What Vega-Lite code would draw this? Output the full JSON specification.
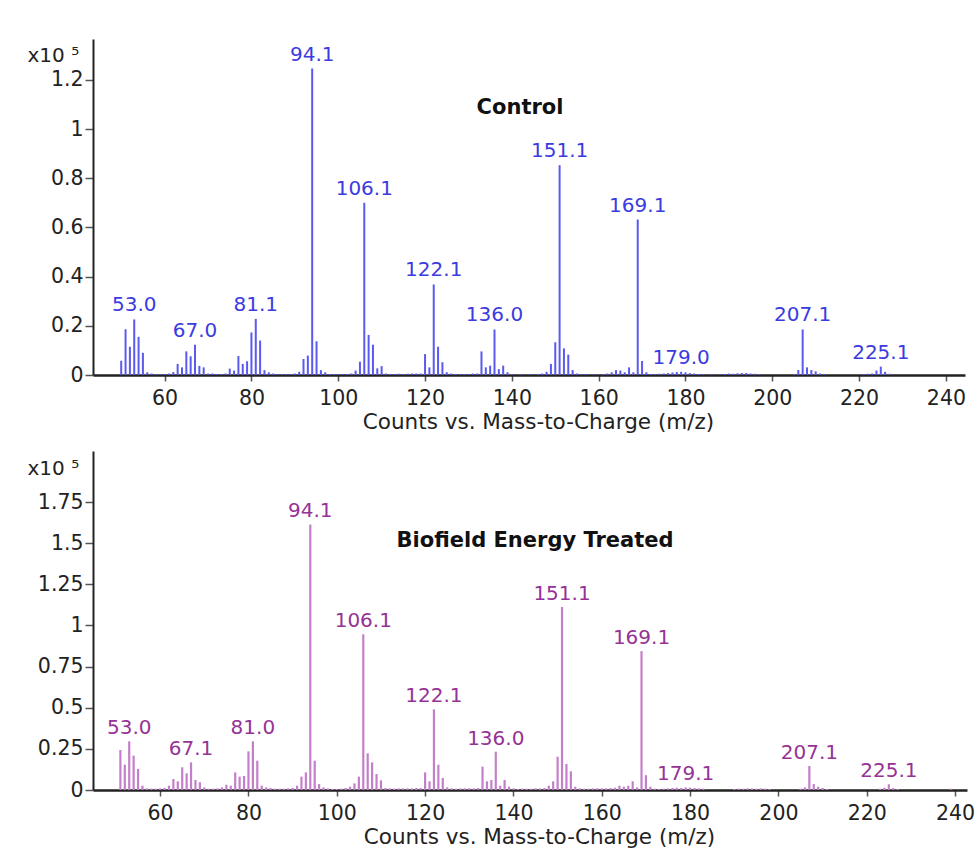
{
  "$schema": "https://vega.github.io/schema/vega-lite/v6.json",
  "padding": {"left": 27, "top": 39, "right": 5, "bottom": 5},
  "background": "white",
  "spacing": 18,
  "config": {
    "view": {"stroke": null},
    "font": "DejaVu Sans",
    "axis": {
      "grid": false,
      "domainColor": "#222222",
      "tickColor": "#555555",
      "labelColor": "#222222",
      "titleColor": "#222222",
      "labelFont": "DejaVu Sans",
      "titleFont": "DejaVu Sans",
      "titleFontWeight": "normal"
    },
    "title": {"font": "DejaVu Sans", "color": "#111111"}
  },
  "datasets": {
    "control": [
      {"mz": 50, "v": 0.058}, {"mz": 51, "v": 0.186}, {"mz": 52, "v": 0.115}, {"mz": 53, "v": 0.226, "label": "53.0"},
      {"mz": 54, "v": 0.155}, {"mz": 55, "v": 0.09}, {"mz": 56, "v": 0.011}, {"mz": 57, "v": 0.006},
      {"mz": 58, "v": 0.004}, {"mz": 59, "v": 0.003}, {"mz": 60, "v": 0.004}, {"mz": 61, "v": 0.006},
      {"mz": 62, "v": 0.012}, {"mz": 63, "v": 0.045}, {"mz": 64, "v": 0.031}, {"mz": 65, "v": 0.096},
      {"mz": 66, "v": 0.076}, {"mz": 67, "v": 0.123, "label": "67.0"}, {"mz": 68, "v": 0.037}, {"mz": 69, "v": 0.031},
      {"mz": 70, "v": 0.006}, {"mz": 71, "v": 0.006}, {"mz": 72, "v": 0.004}, {"mz": 73, "v": 0.004},
      {"mz": 74, "v": 0.006}, {"mz": 75, "v": 0.026}, {"mz": 76, "v": 0.018}, {"mz": 77, "v": 0.077},
      {"mz": 78, "v": 0.045}, {"mz": 79, "v": 0.056}, {"mz": 80, "v": 0.173}, {"mz": 81, "v": 0.228, "label": "81.1"},
      {"mz": 82, "v": 0.14}, {"mz": 83, "v": 0.02}, {"mz": 84, "v": 0.011}, {"mz": 85, "v": 0.006},
      {"mz": 86, "v": 0.004}, {"mz": 87, "v": 0.004}, {"mz": 88, "v": 0.003}, {"mz": 89, "v": 0.004},
      {"mz": 90, "v": 0.006}, {"mz": 91, "v": 0.013}, {"mz": 92, "v": 0.065}, {"mz": 93, "v": 0.079},
      {"mz": 94, "v": 1.246, "label": "94.1"}, {"mz": 95, "v": 0.137}, {"mz": 96, "v": 0.02}, {"mz": 97, "v": 0.011},
      {"mz": 98, "v": 0.004}, {"mz": 99, "v": 0.004}, {"mz": 100, "v": 0.003}, {"mz": 101, "v": 0.004},
      {"mz": 102, "v": 0.004}, {"mz": 103, "v": 0.006}, {"mz": 104, "v": 0.018}, {"mz": 105, "v": 0.054},
      {"mz": 106, "v": 0.7, "label": "106.1"}, {"mz": 107, "v": 0.163}, {"mz": 108, "v": 0.123}, {"mz": 109, "v": 0.027},
      {"mz": 110, "v": 0.036}, {"mz": 111, "v": 0.006}, {"mz": 112, "v": 0.004}, {"mz": 113, "v": 0.004},
      {"mz": 114, "v": 0.005}, {"mz": 115, "v": 0.004}, {"mz": 116, "v": 0.005}, {"mz": 117, "v": 0.006},
      {"mz": 118, "v": 0.006}, {"mz": 119, "v": 0.006}, {"mz": 120, "v": 0.085}, {"mz": 121, "v": 0.031},
      {"mz": 122, "v": 0.368, "label": "122.1"}, {"mz": 123, "v": 0.115}, {"mz": 124, "v": 0.052}, {"mz": 125, "v": 0.011},
      {"mz": 126, "v": 0.006}, {"mz": 127, "v": 0.004}, {"mz": 128, "v": 0.004}, {"mz": 129, "v": 0.004},
      {"mz": 130, "v": 0.003}, {"mz": 131, "v": 0.006}, {"mz": 132, "v": 0.006}, {"mz": 133, "v": 0.096},
      {"mz": 134, "v": 0.031}, {"mz": 135, "v": 0.038}, {"mz": 136, "v": 0.185, "label": "136.0"}, {"mz": 137, "v": 0.024},
      {"mz": 138, "v": 0.038}, {"mz": 139, "v": 0.011}, {"mz": 140, "v": 0.004}, {"mz": 142, "v": 0.003},
      {"mz": 144, "v": 0.003}, {"mz": 146, "v": 0.004}, {"mz": 147, "v": 0.006}, {"mz": 148, "v": 0.013},
      {"mz": 149, "v": 0.045}, {"mz": 150, "v": 0.133}, {"mz": 151, "v": 0.853, "label": "151.1"}, {"mz": 152, "v": 0.108},
      {"mz": 153, "v": 0.083}, {"mz": 154, "v": 0.02}, {"mz": 155, "v": 0.006}, {"mz": 156, "v": 0.003},
      {"mz": 157, "v": 0.004}, {"mz": 159, "v": 0.003}, {"mz": 161, "v": 0.003}, {"mz": 162, "v": 0.006},
      {"mz": 163, "v": 0.011}, {"mz": 164, "v": 0.02}, {"mz": 165, "v": 0.018}, {"mz": 166, "v": 0.011},
      {"mz": 167, "v": 0.031}, {"mz": 168, "v": 0.011}, {"mz": 169, "v": 0.632, "label": "169.1"}, {"mz": 170, "v": 0.057},
      {"mz": 171, "v": 0.011}, {"mz": 172, "v": 0.004}, {"mz": 173, "v": 0.004}, {"mz": 174, "v": 0.005},
      {"mz": 175, "v": 0.006}, {"mz": 176, "v": 0.008}, {"mz": 177, "v": 0.01}, {"mz": 178, "v": 0.012},
      {"mz": 179, "v": 0.013, "label": "179.0"}, {"mz": 180, "v": 0.011}, {"mz": 181, "v": 0.008}, {"mz": 182, "v": 0.006},
      {"mz": 183, "v": 0.004}, {"mz": 184, "v": 0.004}, {"mz": 186, "v": 0.003}, {"mz": 188, "v": 0.003},
      {"mz": 189, "v": 0.004}, {"mz": 190, "v": 0.006}, {"mz": 191, "v": 0.005}, {"mz": 192, "v": 0.007},
      {"mz": 193, "v": 0.008}, {"mz": 194, "v": 0.008}, {"mz": 195, "v": 0.006}, {"mz": 196, "v": 0.005},
      {"mz": 197, "v": 0.004}, {"mz": 205, "v": 0.004}, {"mz": 206, "v": 0.02}, {"mz": 207, "v": 0.185, "label": "207.1"},
      {"mz": 208, "v": 0.031}, {"mz": 209, "v": 0.02}, {"mz": 210, "v": 0.015}, {"mz": 211, "v": 0.006},
      {"mz": 212, "v": 0.003}, {"mz": 221, "v": 0.004}, {"mz": 222, "v": 0.005}, {"mz": 223, "v": 0.006},
      {"mz": 224, "v": 0.018}, {"mz": 225, "v": 0.034, "label": "225.1"}, {"mz": 226, "v": 0.013}, {"mz": 227, "v": 0.005}
    ],
    "treated": [
      {"mz": 51, "v": 0.243}, {"mz": 52, "v": 0.154}, {"mz": 53, "v": 0.296, "label": "53.0"}, {"mz": 54, "v": 0.209},
      {"mz": 55, "v": 0.128}, {"mz": 56, "v": 0.026}, {"mz": 57, "v": 0.01}, {"mz": 58, "v": 0.008},
      {"mz": 59, "v": 0.008}, {"mz": 60, "v": 0.01}, {"mz": 61, "v": 0.012}, {"mz": 62, "v": 0.026},
      {"mz": 63, "v": 0.067}, {"mz": 64, "v": 0.053}, {"mz": 65, "v": 0.138}, {"mz": 66, "v": 0.101},
      {"mz": 67, "v": 0.168, "label": "67.1"}, {"mz": 68, "v": 0.061}, {"mz": 69, "v": 0.047}, {"mz": 70, "v": 0.016},
      {"mz": 71, "v": 0.008}, {"mz": 72, "v": 0.008}, {"mz": 73, "v": 0.01}, {"mz": 74, "v": 0.016},
      {"mz": 75, "v": 0.032}, {"mz": 76, "v": 0.026}, {"mz": 77, "v": 0.107}, {"mz": 78, "v": 0.081},
      {"mz": 79, "v": 0.085}, {"mz": 80, "v": 0.235}, {"mz": 81, "v": 0.296, "label": "81.0"}, {"mz": 82, "v": 0.178},
      {"mz": 83, "v": 0.026}, {"mz": 84, "v": 0.016}, {"mz": 85, "v": 0.012}, {"mz": 86, "v": 0.008},
      {"mz": 87, "v": 0.008}, {"mz": 88, "v": 0.008}, {"mz": 89, "v": 0.01}, {"mz": 90, "v": 0.012},
      {"mz": 91, "v": 0.026}, {"mz": 92, "v": 0.081}, {"mz": 93, "v": 0.107}, {"mz": 94, "v": 1.614, "label": "94.1"},
      {"mz": 95, "v": 0.178}, {"mz": 96, "v": 0.036}, {"mz": 97, "v": 0.016}, {"mz": 98, "v": 0.01},
      {"mz": 99, "v": 0.006}, {"mz": 100, "v": 0.006}, {"mz": 101, "v": 0.008}, {"mz": 102, "v": 0.012},
      {"mz": 103, "v": 0.02}, {"mz": 104, "v": 0.04}, {"mz": 105, "v": 0.081}, {"mz": 106, "v": 0.946, "label": "106.1"},
      {"mz": 107, "v": 0.223}, {"mz": 108, "v": 0.168}, {"mz": 109, "v": 0.097}, {"mz": 110, "v": 0.059},
      {"mz": 111, "v": 0.012}, {"mz": 112, "v": 0.01}, {"mz": 113, "v": 0.008}, {"mz": 114, "v": 0.01},
      {"mz": 115, "v": 0.01}, {"mz": 116, "v": 0.01}, {"mz": 117, "v": 0.01}, {"mz": 118, "v": 0.012},
      {"mz": 119, "v": 0.012}, {"mz": 120, "v": 0.107}, {"mz": 121, "v": 0.053}, {"mz": 122, "v": 0.49, "label": "122.1"},
      {"mz": 123, "v": 0.154}, {"mz": 124, "v": 0.073}, {"mz": 125, "v": 0.016}, {"mz": 126, "v": 0.01},
      {"mz": 127, "v": 0.008}, {"mz": 128, "v": 0.01}, {"mz": 129, "v": 0.01}, {"mz": 130, "v": 0.01},
      {"mz": 131, "v": 0.01}, {"mz": 132, "v": 0.012}, {"mz": 133, "v": 0.142}, {"mz": 134, "v": 0.053},
      {"mz": 135, "v": 0.061}, {"mz": 136, "v": 0.233, "label": "136.0"}, {"mz": 137, "v": 0.026}, {"mz": 138, "v": 0.061},
      {"mz": 139, "v": 0.02}, {"mz": 140, "v": 0.01}, {"mz": 141, "v": 0.006}, {"mz": 142, "v": 0.008},
      {"mz": 143, "v": 0.008}, {"mz": 144, "v": 0.008}, {"mz": 145, "v": 0.01}, {"mz": 146, "v": 0.01},
      {"mz": 147, "v": 0.012}, {"mz": 148, "v": 0.026}, {"mz": 149, "v": 0.053}, {"mz": 150, "v": 0.202},
      {"mz": 151, "v": 1.112, "label": "151.1"}, {"mz": 152, "v": 0.158}, {"mz": 153, "v": 0.113}, {"mz": 154, "v": 0.02},
      {"mz": 155, "v": 0.01}, {"mz": 156, "v": 0.008}, {"mz": 157, "v": 0.008}, {"mz": 158, "v": 0.01},
      {"mz": 159, "v": 0.01}, {"mz": 160, "v": 0.01}, {"mz": 161, "v": 0.01}, {"mz": 162, "v": 0.012},
      {"mz": 163, "v": 0.014}, {"mz": 164, "v": 0.026}, {"mz": 165, "v": 0.02}, {"mz": 166, "v": 0.026},
      {"mz": 167, "v": 0.053}, {"mz": 168, "v": 0.016}, {"mz": 169, "v": 0.844, "label": "169.1"}, {"mz": 170, "v": 0.09},
      {"mz": 171, "v": 0.02}, {"mz": 172, "v": 0.008}, {"mz": 173, "v": 0.006}, {"mz": 174, "v": 0.008},
      {"mz": 175, "v": 0.01}, {"mz": 176, "v": 0.012}, {"mz": 177, "v": 0.014}, {"mz": 178, "v": 0.012},
      {"mz": 179, "v": 0.016, "label": "179.1"}, {"mz": 180, "v": 0.014}, {"mz": 181, "v": 0.012}, {"mz": 182, "v": 0.01},
      {"mz": 183, "v": 0.008}, {"mz": 190, "v": 0.006}, {"mz": 191, "v": 0.008}, {"mz": 192, "v": 0.008},
      {"mz": 193, "v": 0.01}, {"mz": 194, "v": 0.01}, {"mz": 195, "v": 0.008}, {"mz": 196, "v": 0.01},
      {"mz": 197, "v": 0.008}, {"mz": 198, "v": 0.006}, {"mz": 205, "v": 0.008}, {"mz": 206, "v": 0.016},
      {"mz": 207, "v": 0.146, "label": "207.1"}, {"mz": 208, "v": 0.036}, {"mz": 209, "v": 0.02}, {"mz": 210, "v": 0.012},
      {"mz": 211, "v": 0.006}, {"mz": 223, "v": 0.008}, {"mz": 224, "v": 0.014}, {"mz": 225, "v": 0.035, "label": "225.1"},
      {"mz": 226, "v": 0.012}, {"mz": 227, "v": 0.006}, {"mz": 239, "v": 0.008}
    ]
  },
  "vconcat": [
    {
      "width": 872,
      "height": 336,
      "title": {"text": "Control", "orient": "top", "anchor": "middle", "frame": "group", "baseline": "alphabetic", "offset": -96, "dx": -9, "fontSize": 21, "fontWeight": "bold"},
      "data": {"name": "control"},
      "layer": [
        {
          "mark": {"type": "rule", "color": "#5a5af0", "strokeWidth": 2},
          "encoding": {
            "x": {"field": "mz", "type": "quantitative",
              "scale": {"domain": [43.5, 244.4], "nice": false, "zero": false},
              "axis": {"values": [60, 80, 100, 120, 140, 160, 180, 200, 220, 240], "title": "Counts vs. Mass-to-Charge (m/z)",
                "titleFontSize": 21.5, "titlePadding": 3, "titleX": 445, "titleAlign": "center", "tickSize": 6, "labelPadding": 7, "labelFontSize": 20.5,
                "domainWidth": 2.5, "tickWidth": 1.5}},
            "y": {"field": "v", "type": "quantitative",
              "scale": {"domain": [0, 1.366], "nice": false},
              "axis": {"values": [0, 0.2, 0.4, 0.6, 0.8, 1, 1.2], "format": ".3~g", "title": "x10 ⁵",
                "titleAngle": 0, "titleAlign": "left", "titleBaseline": "alphabetic", "titleX": -66, "titleY": 22, "titleFontSize": 20,
                "tickSize": 8, "labelPadding": 2, "labelFontSize": 20.5, "domainWidth": 2, "tickWidth": 1.5}},
            "y2": {"datum": 0}
          }
        },
        {
          "transform": [{"filter": "datum.label"}],
          "mark": {"type": "text", "dy": -8, "baseline": "alphabetic", "align": "center", "fontSize": 20, "color": "#3b3be0"},
          "encoding": {
            "x": {"field": "mz", "type": "quantitative"},
            "y": {"field": "v", "type": "quantitative"},
            "text": {"field": "label"}
          }
        }
      ]
    },
    {
      "width": 874,
      "height": 339,
      "title": {"text": "Biofield  Energy  Treated", "orient": "top", "anchor": "middle", "frame": "group", "baseline": "alphabetic", "offset": -117, "dx": 5, "fontSize": 21, "fontWeight": "bold"},
      "data": {"name": "treated"},
      "layer": [
        {
          "mark": {"type": "rule", "color": "#c47fca", "strokeWidth": 2.2},
          "encoding": {
            "x": {"field": "mz", "type": "quantitative",
              "scale": {"domain": [44.8, 242.7], "nice": false, "zero": false},
              "axis": {"values": [60, 80, 100, 120, 140, 160, 180, 200, 220, 240], "title": "Counts vs. Mass-to-Charge (m/z)",
                "titleFontSize": 21.5, "titlePadding": 3, "titleX": 446, "titleAlign": "center", "tickSize": 6, "labelPadding": 7, "labelFontSize": 20.5,
                "domainWidth": 2.5, "tickWidth": 1.5}},
            "y": {"field": "v", "type": "quantitative",
              "scale": {"domain": [0, 2.06], "nice": false},
              "axis": {"values": [0, 0.25, 0.5, 0.75, 1, 1.25, 1.5, 1.75], "format": ".3~g", "title": "x10 ⁵",
                "titleAngle": 0, "titleAlign": "left", "titleBaseline": "alphabetic", "titleX": -66, "titleY": 23, "titleFontSize": 20,
                "tickSize": 8, "labelPadding": 2, "labelFontSize": 20.5, "domainWidth": 2, "tickWidth": 1.5}},
            "y2": {"datum": 0}
          }
        },
        {
          "transform": [{"filter": "datum.label"}],
          "mark": {"type": "text", "dy": -7, "baseline": "alphabetic", "align": "center", "fontSize": 20, "color": "#963296"},
          "encoding": {
            "x": {"field": "mz", "type": "quantitative"},
            "y": {"field": "v", "type": "quantitative"},
            "text": {"field": "label"}
          }
        }
      ]
    }
  ]
}
